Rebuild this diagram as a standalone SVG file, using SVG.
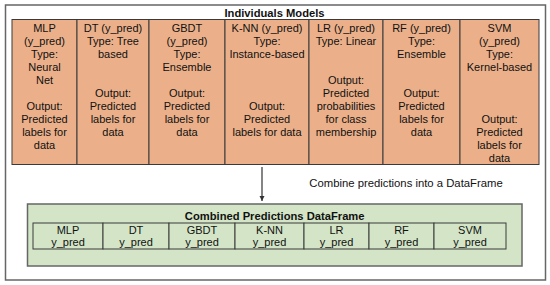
<svg xmlns="http://www.w3.org/2000/svg" width="550" height="285" viewBox="0 0 550 285">
<defs>
<style>
text{font-family:"Liberation Sans",Arial,Helvetica,sans-serif;font-size:11px;fill:#111;text-anchor:middle}
.title{font-weight:bold;font-size:11.2px}
.cell{fill:#ebb08a;stroke:#3a3a3a;stroke-width:1}
.gcell{fill:#d3e5c6;stroke:#3a3a3a;stroke-width:1}
.frame{fill:#fff;stroke:#666;stroke-width:1.5}
.gframe{fill:#d3e5c6;stroke:#666;stroke-width:1.5}
.conn{stroke:#333;stroke-width:1.2;fill:none}
</style>
<marker id="ah" markerWidth="6" markerHeight="6" refX="5" refY="3" orient="auto" markerUnits="userSpaceOnUse">
<path d="M0,0.5 L5,3 L0,5.5 Z" fill="#333"/>
</marker>
</defs>
<rect width="550" height="285" fill="#fff"/>
<g id="frame">
<rect class="frame" x="5.5" y="5" width="540" height="275"/>
<text class="title" x="274.5" y="16.5">Individuals Models</text>
</g>
<g id="models">
<g id="mlp">
<rect class="cell" x="12" y="19.5" width="65" height="145"/>
<text x="44.5"><tspan x="44.5" y="31.5">MLP</tspan><tspan x="44.5" y="44.5">(y_pred)</tspan><tspan x="44.5" y="57.5">Type:</tspan><tspan x="44.5" y="70.5">Neural</tspan><tspan x="44.5" y="83.5">Net</tspan><tspan x="44.5" y="109.5">Output:</tspan><tspan x="44.5" y="122.5">Predicted</tspan><tspan x="44.5" y="135.5">labels for</tspan><tspan x="44.5" y="148.5">data</tspan></text>
</g>
<g id="dt">
<rect class="cell" x="77" y="19.5" width="72" height="145"/>
<text><tspan x="113" y="31.5">DT (y_pred)</tspan><tspan x="113" y="44.5">Type: Tree</tspan><tspan x="113" y="57.5">based</tspan><tspan x="113" y="96.5">Output:</tspan><tspan x="113" y="109.5">Predicted</tspan><tspan x="113" y="122.5">labels for</tspan><tspan x="113" y="135.5">data</tspan></text>
</g>
<g id="gbdt">
<rect class="cell" x="149" y="19.5" width="76" height="145"/>
<text><tspan x="187" y="31.5">GBDT</tspan><tspan x="187" y="44.5">(y_pred)</tspan><tspan x="187" y="57.5">Type:</tspan><tspan x="187" y="70.5">Ensemble</tspan><tspan x="187" y="96.5">Output:</tspan><tspan x="187" y="109.5">Predicted</tspan><tspan x="187" y="122.5">labels for</tspan><tspan x="187" y="135.5">data</tspan></text>
</g>
<g id="knn">
<rect class="cell" x="225" y="19.5" width="84" height="145"/>
<text><tspan x="267" y="31.5">K-NN (y_pred)</tspan><tspan x="267" y="44.5">Type:</tspan><tspan x="267" y="57.5">Instance-based</tspan><tspan x="267" y="109.5">Output:</tspan><tspan x="267" y="122.5">Predicted</tspan><tspan x="267" y="135.5">labels for data</tspan></text>
</g>
<g id="lr">
<rect class="cell" x="309" y="19.5" width="74" height="145"/>
<text><tspan x="346" y="31.5">LR (y_pred)</tspan><tspan x="346" y="44.5">Type: Linear</tspan><tspan x="346" y="83.5">Output:</tspan><tspan x="346" y="96.5">Predicted</tspan><tspan x="346" y="109.5">probabilities</tspan><tspan x="346" y="122.5">for class</tspan><tspan x="346" y="135.5">membership</tspan></text>
</g>
<g id="rf">
<rect class="cell" x="383" y="19.5" width="77" height="145"/>
<text><tspan x="421.5" y="31.5">RF (y_pred)</tspan><tspan x="421.5" y="44.5">Type:</tspan><tspan x="421.5" y="57.5">Ensemble</tspan><tspan x="421.5" y="96.5">Output:</tspan><tspan x="421.5" y="109.5">Predicted</tspan><tspan x="421.5" y="122.5">labels for</tspan><tspan x="421.5" y="135.5">data</tspan></text>
</g>
<g id="svm">
<rect class="cell" x="460" y="19.5" width="79" height="145"/>
<text><tspan x="499.5" y="31.5">SVM</tspan><tspan x="499.5" y="44.5">(y_pred)</tspan><tspan x="499.5" y="57.5">Type:</tspan><tspan x="499.5" y="70.5">Kernel-based</tspan><tspan x="499.5" y="122.5">Output:</tspan><tspan x="499.5" y="135.5">Predicted</tspan><tspan x="499.5" y="148.5">labels for</tspan><tspan x="499.5" y="161.5">data</tspan></text>
</g>
</g>
<g id="connectors">
<line class="conn" x1="262" y1="167" x2="262" y2="201" marker-end="url(#ah)"/>
<text x="406" y="187.3" style="font-size:11.3px">Combine predictions into a DataFrame</text>
</g>
<g id="combined">
<rect class="gframe" x="27.5" y="204" width="494.5" height="62"/>
<text class="title" x="274.7" y="220">Combined Predictions DataFrame</text>
<g id="c-mlp"><rect class="gcell" x="33" y="223" width="70" height="26"/><text><tspan x="68" y="234">MLP</tspan><tspan x="68" y="246">y_pred</tspan></text></g>
<g id="c-dt"><rect class="gcell" x="103" y="223" width="66" height="26"/><text><tspan x="136" y="234">DT</tspan><tspan x="136" y="246">y_pred</tspan></text></g>
<g id="c-gbdt"><rect class="gcell" x="169" y="223" width="66" height="26"/><text><tspan x="202" y="234">GBDT</tspan><tspan x="202" y="246">y_pred</tspan></text></g>
<g id="c-knn"><rect class="gcell" x="235" y="223" width="69" height="26"/><text><tspan x="269.5" y="234">K-NN</tspan><tspan x="269.5" y="246">y_pred</tspan></text></g>
<g id="c-lr"><rect class="gcell" x="304" y="223" width="65" height="26"/><text><tspan x="336.5" y="234">LR</tspan><tspan x="336.5" y="246">y_pred</tspan></text></g>
<g id="c-rf"><rect class="gcell" x="369" y="223" width="65" height="26"/><text><tspan x="401.5" y="234">RF</tspan><tspan x="401.5" y="246">y_pred</tspan></text></g>
<g id="c-svm"><rect class="gcell" x="434" y="223" width="72" height="26"/><text><tspan x="470" y="234">SVM</tspan><tspan x="470" y="246">y_pred</tspan></text></g>
</g>
</svg>
